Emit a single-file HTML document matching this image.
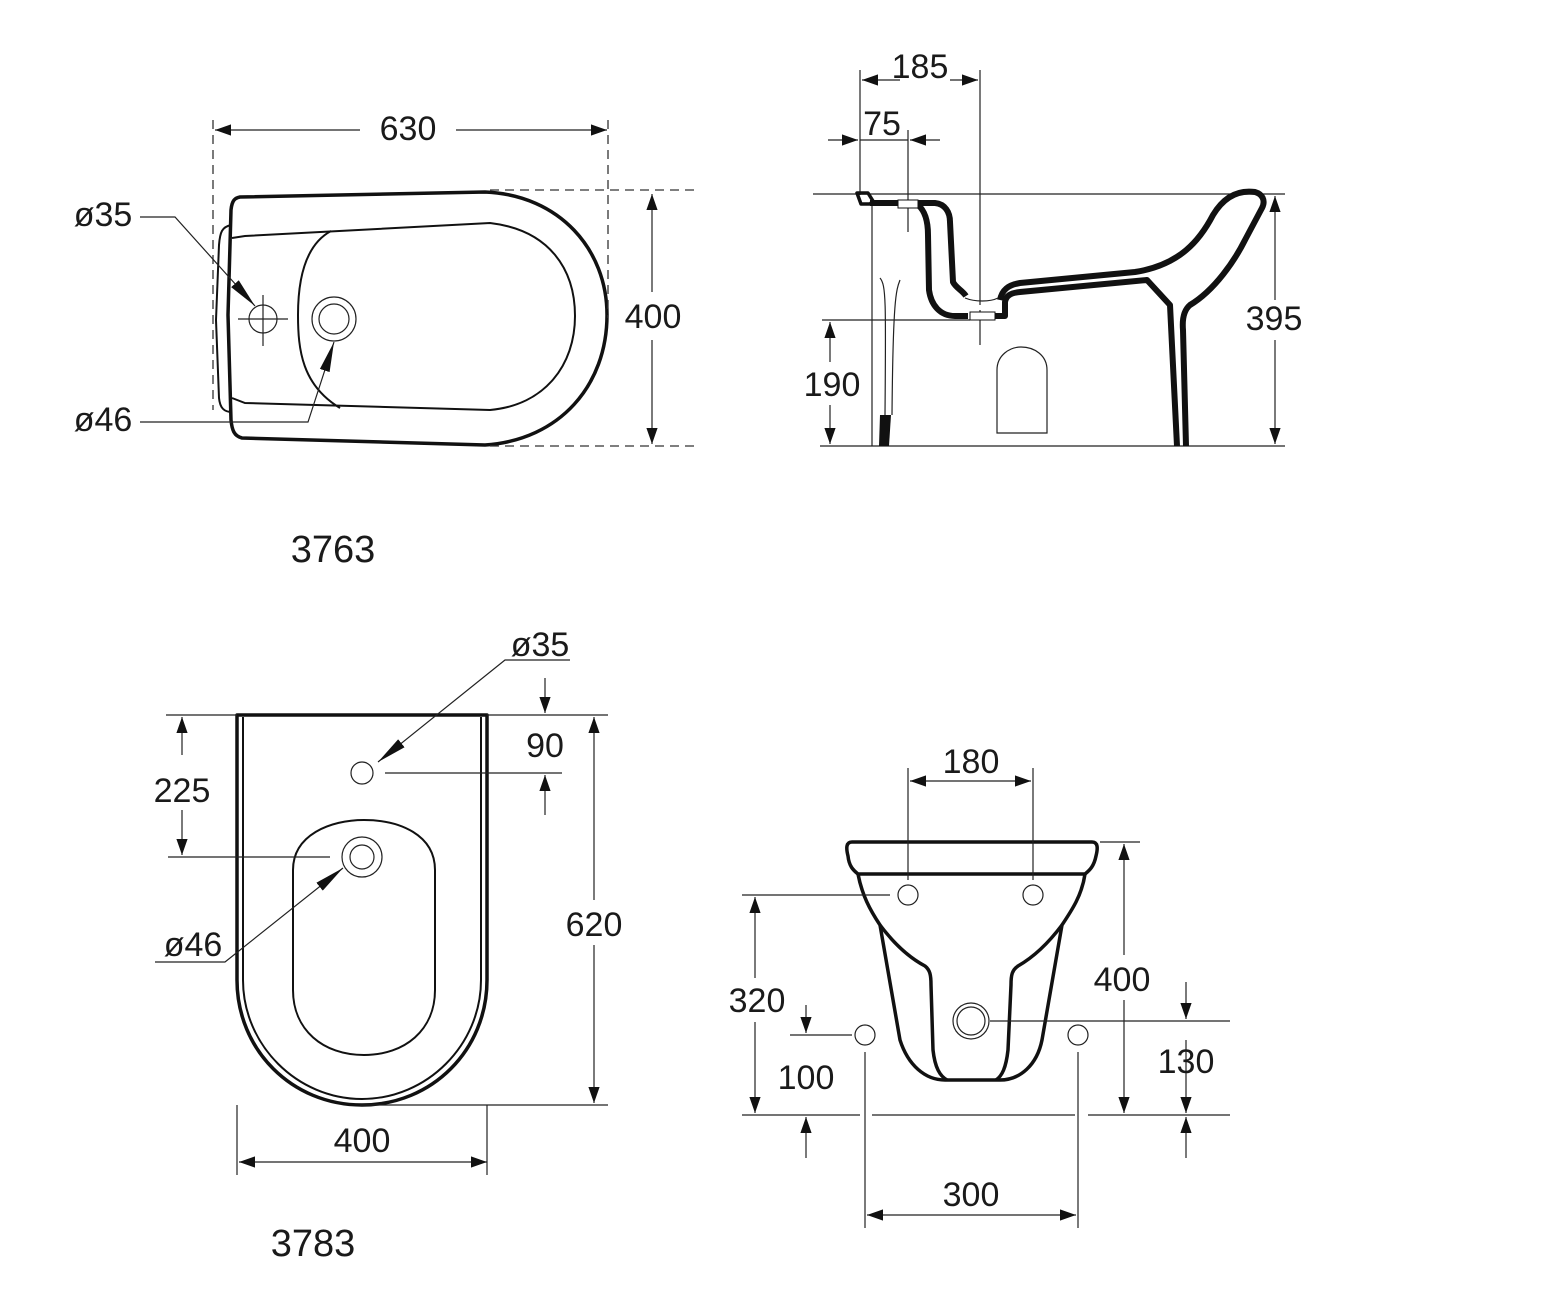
<!DOCTYPE html>
<html><head><meta charset="utf-8"><style>
html,body{margin:0;padding:0;background:#fff}
svg{display:block}
text{font-family:"Liberation Sans",sans-serif;font-size:34px;fill:#1a1a1a;text-anchor:middle}
.t{fill:none;stroke:#111;stroke-width:3.5;stroke-linejoin:round}
.s{fill:none;stroke:#111;stroke-width:6;stroke-linejoin:round}
.m{fill:none;stroke:#111;stroke-width:2}
.d{fill:none;stroke:#222;stroke-width:1.2}
.dash{fill:none;stroke:#333;stroke-width:1.3;stroke-dasharray:9 6}
</style></head><body>
<svg width="1546" height="1302" viewBox="0 0 1546 1302" xmlns="http://www.w3.org/2000/svg">
<defs>
<marker id="a" viewBox="0 0 10 10" refX="10" refY="5" markerWidth="16" markerHeight="16" markerUnits="userSpaceOnUse" orient="auto-start-reverse"><path d="M0,1.5 L10,5 L0,8.5 z" fill="#111"/></marker>
<marker id="b" viewBox="0 0 10 10" refX="10" refY="5" markerWidth="30" markerHeight="30" markerUnits="userSpaceOnUse" orient="auto"><path d="M0,3.3 L10,5 L0,6.7 z" fill="#111"/></marker>
</defs>

<!-- ===== Top-left plan 3763 ===== -->
<path class="t" d="M240,197 L485,192 C560,195 607,250 607,315 C607,385 560,440 485,445 L242,438 C234,436 232,430 231,420 L228,315 L231,210 C232,200 235,198 240,197 Z"/>
<path class="m" d="M231,225 C222,227 220,232 219,245 L216,320 L219,398 C220,408 224,412 232,412"/>
<path class="m" d="M232,238 L245,236 L490,223 C550,230 575,270 575,316 C575,365 545,405 490,410 L245,403 L232,398"/>
<path class="m" d="M331,231 C305,245 298,280 298,315 C298,350 302,385 340,408"/>
<circle class="d" cx="334" cy="319" r="22" stroke-width="1.5"/>
<circle class="d" cx="334" cy="319" r="15" stroke-width="1.5"/>
<circle class="d" cx="263" cy="319" r="14" stroke-width="1.5"/>
<path class="d" d="M238,319 H288 M263,295 V346"/>
<path class="dash" d="M213,120 V410 M608,120 V318 M490,190 H695 M490,446 H695"/>
<path class="d" d="M215,130 H360" marker-start="url(#a)"/>
<path class="d" d="M456,130 H607" marker-end="url(#a)"/>
<text x="408" y="140">630</text>
<path class="d" d="M652,194 V292" marker-start="url(#a)"/>
<path class="d" d="M652,340 V444" marker-end="url(#a)"/>
<text x="653" y="328">400</text>
<path class="d" d="M140,217 H175 L255,306" marker-end="url(#b)"/>
<text x="103" y="226">ø35</text>
<path class="d" d="M140,422 H308 L334,342" marker-end="url(#b)"/>
<text x="103" y="431">ø46</text>
<text x="333" y="562" style="font-size:38px">3763</text>

<!-- ===== Top-right side view ===== -->
<path class="d" d="M813,194 H1285 M822,320 H970 M820,446 H1285"/>
<path class="d" d="M860,70 V195 M980,70 V305 M908,130 V232 M980,310 V345"/>
<path class="d" d="M862,80 H900" marker-start="url(#a)"/>
<path class="d" d="M950,80 H978" marker-end="url(#a)"/>
<text x="920" y="78">185</text>
<path class="d" d="M828,140 H858" marker-end="url(#a)"/>
<path class="d" d="M940,140 H910" marker-end="url(#a)"/>
<path class="d" d="M860,140 H908"/>
<text x="882" y="135">75</text>
<path class="d" d="M830,322 V362" marker-start="url(#a)"/>
<path class="d" d="M830,405 V444" marker-end="url(#a)"/>
<text x="832" y="396">190</text>
<path class="d" d="M1275,196 V300" marker-start="url(#a)"/>
<path class="d" d="M1275,340 V444" marker-end="url(#a)"/>
<text x="1274" y="330">395</text>
<path class="d" d="M872,205 V446"/>
<path class="t" d="M857,193 L868,193 L873,201 L870,204 L861,204 Z"/>
<path class="s" d="M870,203 L898,203 M918,203 L935,203 C945,204 950,212 950,222 L953,282 C956,288 962,290 966,296 M1000,300 C1002,290 1008,285 1020,283 L1135,272 C1180,265 1200,240 1213,215 C1225,195 1240,190 1255,192 C1262,194 1266,200 1262,208 L1245,240 C1235,260 1215,290 1190,305 C1184,310 1182,318 1183,330 L1186,446"/>
<path class="s" d="M918,205 C924,210 928,220 928,235 L929,290 C931,305 940,316 955,316 L968,316 M995,316 L1005,316 L1005,302 C1006,296 1010,293 1020,292 L1147,280 L1170,305 L1177,446"/>
<rect x="898" y="200" width="20" height="8" fill="#fff" stroke="#111" stroke-width="1"/>
<rect x="970" y="312" width="25" height="8" fill="#fff" stroke="#111" stroke-width="1"/>
<path class="d" d="M965,298 C975,302 990,302 998,298 M880,278 C886,285 886,300 885,415 M900,280 C896,290 893,300 892,415"/>
<path d="M880,415 H891 L889,446 H879 Z" fill="#111"/>
<path class="d" d="M997,433 V370 C997,355 1010,347 1021,347 C1034,347 1047,355 1047,370 V433 Z"/>

<!-- ===== Bottom-left plan 3783 ===== -->
<path class="t" d="M237,715 H487 V980 C487,1050 432,1105 362,1105 C292,1105 237,1050 237,980 Z"/>
<path class="m" d="M243,717 V980 C243,1045 297,1099 362,1099 C427,1099 481,1045 481,980 V717"/>
<path class="m" d="M293,870 C293,835 330,820 364,820 C400,820 435,835 435,870 V990 C435,1030 405,1055 364,1055 C323,1055 293,1030 293,990 Z"/>
<circle class="d" cx="362" cy="773" r="11" stroke-width="1.5"/>
<circle class="d" cx="362" cy="857" r="20" stroke-width="1.5"/>
<circle class="d" cx="362" cy="857" r="12" stroke-width="1.5"/>
<path class="d" d="M166,715 H237 M487,715 H608 M168,857 H330 M385,773 H562 M360,1105 H608 M237,1105 V1175 M487,1105 V1175"/>
<path class="d" d="M182,717 V755" marker-start="url(#a)"/>
<path class="d" d="M182,810 V855" marker-end="url(#a)"/>
<text x="182" y="802">225</text>
<path class="d" d="M594,717 V900" marker-start="url(#a)"/>
<path class="d" d="M594,945 V1103" marker-end="url(#a)"/>
<text x="594" y="936">620</text>
<path class="d" d="M545,678 V713" marker-end="url(#a)"/>
<path class="d" d="M545,815 V775" marker-end="url(#a)"/>
<text x="545" y="757">90</text>
<path class="d" d="M239,1162 H487" marker-start="url(#a)" marker-end="url(#a)"/>
<text x="362" y="1152">400</text>
<path class="d" d="M570,660 H505 L378,762" marker-end="url(#b)"/>
<text x="540" y="656">ø35</text>
<path class="d" d="M155,962 H225 L343,868" marker-end="url(#b)"/>
<text x="193" y="956">ø46</text>
<text x="313" y="1256" style="font-size:38px">3783</text>

<!-- ===== Bottom-right front view ===== -->
<path class="t" d="M852,842 H1092 C1098,842 1098,848 1096,856 C1094,866 1090,870 1085,874 H858 C853,870 849,866 848,856 C846,848 846,842 852,842 Z"/>
<path class="t" d="M858,874 C862,895 870,910 880,925 L900,1040 C908,1065 925,1080 945,1080 H1000 C1020,1080 1037,1065 1042,1040 L1062,925 C1072,910 1082,895 1085,874"/>
<path class="t" d="M880,925 C895,945 910,958 925,966 C930,970 931,975 931,985 L933,1050 C935,1068 940,1076 947,1080 M1062,925 C1047,945 1032,958 1018,966 C1012,970 1011,975 1011,985 L1008,1050 C1006,1068 1002,1076 996,1080"/>
<circle class="d" cx="908" cy="895" r="10" stroke-width="1.5"/>
<circle class="d" cx="1033" cy="895" r="10" stroke-width="1.5"/>
<circle class="d" cx="865" cy="1035" r="10" stroke-width="1.5"/>
<circle class="d" cx="1078" cy="1035" r="10" stroke-width="1.5"/>
<circle class="d" cx="971" cy="1021" r="18" stroke-width="1.5"/>
<circle class="d" cx="971" cy="1021" r="14" stroke-width="1.5"/>
<path class="d" d="M908,768 V880 M1033,768 V880 M742,895 H890 M1100,842 H1140 M990,1021 H1230 M790,1035 H852 M742,1115 H860 M872,1115 H1075 M1088,1115 H1230 M865,1052 V1228 M1078,1052 V1228"/>
<path class="d" d="M910,781 H1031" marker-start="url(#a)" marker-end="url(#a)"/>
<text x="971" y="773">180</text>
<path class="d" d="M1124,844 V955" marker-start="url(#a)"/>
<path class="d" d="M1124,1000 V1113" marker-end="url(#a)"/>
<text x="1122" y="991">400</text>
<path class="d" d="M755,897 V978" marker-start="url(#a)"/>
<path class="d" d="M755,1022 V1113" marker-end="url(#a)"/>
<text x="757" y="1012">320</text>
<path class="d" d="M806,1005 V1033" marker-end="url(#a)"/>
<path class="d" d="M806,1158 V1117" marker-end="url(#a)"/>
<text x="806" y="1089">100</text>
<path class="d" d="M1186,982 V1019" marker-end="url(#a)"/>
<path class="d" d="M1186,1040 V1113" marker-end="url(#a)"/>
<path class="d" d="M1186,1158 V1117" marker-end="url(#a)"/>
<text x="1186" y="1073">130</text>
<path class="d" d="M867,1215 H1076" marker-start="url(#a)" marker-end="url(#a)"/>
<text x="971" y="1206">300</text>
</svg>
</body></html>
